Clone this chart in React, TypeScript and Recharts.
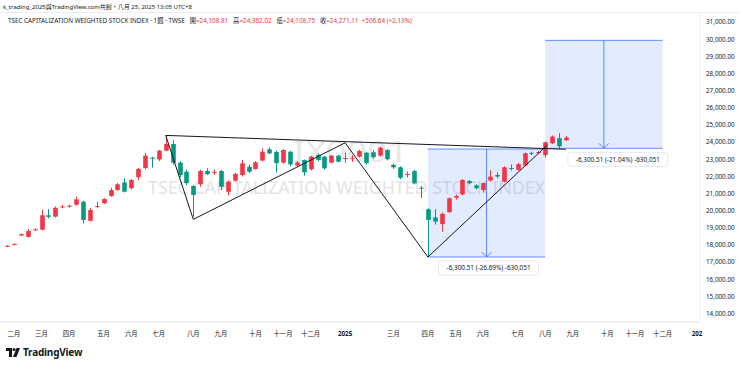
import React from "react";
import {
  ComposedChart,
  Bar,
  XAxis,
  YAxis,
  ReferenceLine,
  ReferenceArea,
  ReferenceDot,
} from "recharts";

// weekly TAIEX candles, week 0 = 2024-01-29 ... week 81 = 2025-08-25
const OPEN = [
  17930, 18010, 18560, 18480, 18880, 18900, 19740, 19660, 20200, 20260,
  20360, 20530, 19420, 20230, 20440, 20860, 21210, 21660, 21320, 21960,
  22500, 23100, 23000, 23510, 23900, 22810, 22280, 21450, 21550, 22320,
  22240, 22320, 21110, 21760, 22090, 22570, 22440, 22930, 23590, 23430,
  22810, 23450, 22640, 22960, 22420, 23260, 23160, 22810, 23220, 23030,
  23060, 23160, 23390, 23420, 23220, 23550, 22680, 22540, 22100, 22320,
  21350, 20090, 19620, 19230, 19920, 20770, 20960, 21740, 21490, 21210,
  21770, 22090, 21700, 22500, 22380, 22640, 23380, 23390, 23250, 23940,
  24240, 24108.81,
];
const HIGH = [
  18000, 18100, 18680, 18940, 18980, 20050, 20090, 20250, 20330, 20360,
  20830, 20600, 20170, 20530, 20730, 21350, 21620, 21900, 21850, 22500,
  23370, 23150, 23560, 24416, 24130, 22900, 22400, 21500, 22400, 22480,
  22400, 22380, 21760, 22220, 22960, 22700, 22900, 23650, 23700, 23500,
  23600, 23500, 22900, 23000, 23200, 23350, 23200, 23260, 23270, 23400,
  23250, 23560, 23450, 23550, 23750, 23600, 22750, 22600, 22300, 22400,
  21450, 20150, 20100, 19900, 20780, 20950, 21850, 21800, 21550, 21650,
  22380, 22250, 22600, 22700, 22800, 23400, 23450, 23500, 24050, 24400,
  24530, 24362.02,
];
const LOW = [
  17880, 17990, 18540, 18450, 18820, 18870, 19560, 19620, 20150, 20190,
  20300, 19270, 19380, 20150, 20400, 20820, 21180, 21080, 21250, 21800,
  22420, 22520, 22900, 23480, 22700, 21950, 21500, 19662, 21400, 22090,
  22100, 21200, 20900, 21700, 22000, 22200, 22400, 22900, 23300, 22230,
  22750, 22600, 22550, 22050, 22350, 22900, 22400, 22780, 22820, 22800,
  22850, 23100, 22700, 23050, 23150, 22950, 22450, 21850, 21950, 21550,
  20750, 17306, 19200, 18780, 19880, 20650, 20900, 21550, 21250, 21060,
  21700, 21900, 21650, 22350, 22350, 22600, 23250, 23300, 23100, 23900,
  23650, 24108.75,
];
const CLOSE = [
  17960, 18060, 18640, 18820, 18920, 19740, 19650, 20180, 20260, 20300,
  20670, 19470, 20050, 20280, 20690, 21210, 21550, 21120, 21800, 22440,
  23220, 23050, 23510, 23900, 22810, 22090, 21610, 20920, 22320, 22140,
  22270, 21400, 21700, 22150, 22770, 22280, 22830, 23450, 23350, 22780,
  23550, 22710, 22830, 22250, 23160, 22970, 22480, 23220, 22870, 23080,
  23100, 23490, 22780, 23130, 23680, 23010, 22540, 21930, 22150, 21600,
  21300, 19470, 19370, 19820, 20730, 20870, 21800, 21610, 21320, 21620,
  22000, 22000, 22540, 22450, 22720, 23360, 23340, 23430, 24000, 24330,
  23764.47, 24271.11,
];

// first week of each month on the time axis (incl. future weeks)
const MONTH_WEEKS = [1, 5, 9, 14, 18, 22, 27, 31, 36, 40, 44, 49, 56, 61, 65, 69, 74, 78, 82, 87, 91, 95, 100];
const MONTH_LABELS = [
  "二月", "三月", "四月", "五月", "六月", "七月", "八月", "九月", "十月", "十一月", "十二月",
  "2025", "三月", "四月", "五月", "六月", "七月", "八月", "九月", "十月", "十一月", "十二月", "202",
];
const PRICE_TICKS = [
  14000, 15000, 16000, 17000, 18000, 19000, 20000, 21000, 22000,
  23000, 24000, 25000, 26000, 27000, 28000, 29000, 30000, 31000,
];

// drawings: [week, price]
const PATTERN_TOP = [[23, 24400], [81, 23590]];
const PATTERN_LEGS = [
  [[23, 24400], [27, 19500]],
  [[27, 19500], [49, 23970]],
  [[49, 23970], [61, 17306]],
  [[61, 17306], [78.3, 23840]],
];
// price range boxes: [week1, week2, fromPrice, toPrice, label]
const RANGES: [number, number, number, number, string][] = [
  [61, 78, 23606.5, 17306, "-6,300.51 (-26.69%) -630,051"],
  [78, 95, 29945.5, 23645, "-6,300.51 (-21.04%) -630,051"],
];

const RED = "#f23645";
const GREEN = "#089981";
const BLUE = "#2962ff";
const FONT = '"Noto Sans", "Noto Sans CJK TC", sans-serif';

const data = OPEN.map((o, i) => ({
  i,
  o,
  h: HIGH[i],
  l: LOW[i],
  c: CLOSE[i],
  range: [LOW[i], HIGH[i]],
}));

function Candle(props: any) {
  const { x, y, width, height, payload } = props;
  if (x == null || !payload) return null;
  const { o, h, l, c } = payload;
  const color = c >= o ? RED : GREEN;
  const top = Math.min(y, y + height);
  const hh = Math.abs(height);
  const cx = Math.round(x + width / 2) + 0.5;
  const py = (v: number) => top + ((h - v) / (h - l || 1)) * hh;
  const b1 = py(Math.max(o, c));
  const b2 = py(Math.min(o, c));
  return (
    <g>
      <line x1={cx} x2={cx} y1={top} y2={top + hh} stroke={color} strokeWidth={1} />
      <rect x={cx - 2.3} y={b1} width={4.6} height={Math.max(1, b2 - b1)} fill={color} />
    </g>
  );
}

const XTick = (props: any) => {
  const { x, y, payload } = props;
  const idx = MONTH_WEEKS.indexOf(payload.value);
  const label = MONTH_LABELS[idx] ?? "";
  const bold = label.startsWith("20");
  return (
    <text x={x} y={y + 6} textAnchor="middle" fontSize={6.3} fontFamily={FONT} fill="#131722" fontWeight={bold ? 700 : 400}>
      {label}
    </text>
  );
};

const YTick = (props: any) => {
  const { x, y, payload } = props;
  return (
    <text x={x} y={y + 2.2} textAnchor="start" fontSize={6.3} fontFamily={FONT} fill="#131722">
      {payload.value.toLocaleString("en-US", { minimumFractionDigits: 2 })}
    </text>
  );
};

const arrowHead = (p: any) => (
  <path d={`M${p.cx - 5},${p.cy - 5} L${p.cx},${p.cy} L${p.cx + 5},${p.cy - 5}`} stroke={BLUE} strokeOpacity={0.75} fill="none" strokeWidth={1} />
);

const rangeLabel = (text: string, dx: number) => (p: any) => (
  <g>
    <rect x={p.cx + dx - 50} y={p.cy + 4} width={100} height={14} rx={3} fill="#fff" stroke="#e0e3eb" strokeWidth={0.8} />
    <text x={p.cx + dx} y={p.cy + 13.3} textAnchor="middle" fontSize={6.4} fontFamily={FONT} fill="#131722">
      {text}
    </text>
  </g>
);

export default function App() {
  return (
    <div style={{ position: "absolute", left: 0, top: 0, width: 740, height: 367, background: "#fff", fontFamily: FONT, color: "#131722" }}>
      {/* symbol watermark */}
      <svg width={740} height={367} style={{ position: "absolute", left: 0, top: 0 }}>
        <text x={293} y={162} fontSize={29} textLength={115} lengthAdjust="spacingAndGlyphs" fontFamily={FONT} fill="#e8e8ea">
          IX0001
        </text>
        <text x={148} y={194} fontSize={18} textLength={397} lengthAdjust="spacingAndGlyphs" fontFamily={FONT} fill="#e3e3e5">
          TSEC CAPITALIZATION WEIGHTED STOCK INDEX
        </text>
        <line x1={0} x2={740} y1={12.5} y2={12.5} stroke="#eceef2" />
      </svg>

      <div style={{ position: "absolute", left: 0, top: 0 }}>
        <ComposedChart width={740} height={367} data={data} margin={{ top: 12, right: 0, bottom: 29, left: 0 }}>
          <XAxis
            dataKey="i"
            type="number"
            domain={[-1.014, 100.43]}
            allowDataOverflow
            ticks={MONTH_WEEKS}
            interval={0}
            height={16}
            tick={<XTick />}
            tickLine={false}
            axisLine={{ stroke: "#e0e3eb" }}
          />
          <YAxis
            orientation="right"
            type="number"
            domain={[13514, 31600]}
            allowDataOverflow
            ticks={PRICE_TICKS}
            interval={0}
            width={40}
            tickSize={0}
            tickMargin={6}
            tick={<YTick />}
            axisLine={{ stroke: "#eef0f3" }}
          />

          {RANGES.map(([w1, w2, p1, p2], k) => (
            <ReferenceArea key={"a" + k} x1={w1} x2={w2} y1={Math.min(p1, p2)} y2={Math.max(p1, p2)} fill={BLUE} fillOpacity={0.13} stroke="none" />
          ))}
          {RANGES.map(([w1, w2, p1], k) => (
            <ReferenceLine key={"t" + k} segment={[{ x: w1, y: p1 }, { x: w2, y: p1 }]} stroke={BLUE} strokeOpacity={0.7} />
          ))}
          {RANGES.map(([w1, w2, , p2], k) => (
            <ReferenceLine key={"b" + k} segment={[{ x: w1, y: p2 }, { x: w2, y: p2 }]} stroke={BLUE} strokeOpacity={0.7} />
          ))}
          {RANGES.map(([w1, w2, p1, p2], k) => (
            <ReferenceLine key={"v" + k} segment={[{ x: (w1 + w2) / 2, y: p1 }, { x: (w1 + w2) / 2, y: p2 }]} stroke={BLUE} strokeOpacity={0.75} />
          ))}
          {RANGES.map(([w1, w2, , p2], k) => (
            <ReferenceDot key={"h" + k} x={(w1 + w2) / 2} y={p2} r={0} shape={arrowHead} />
          ))}

          <Bar dataKey="range" barSize={5} isAnimationActive={false} shape={(p: any) => <Candle {...p} />} />

          <ReferenceLine segment={[{ x: PATTERN_TOP[0][0], y: PATTERN_TOP[0][1] }, { x: PATTERN_TOP[1][0], y: PATTERN_TOP[1][1] }]} stroke="#131722" strokeWidth={1} />
          {PATTERN_LEGS.map(([a, b], k) => (
            <ReferenceLine key={"p" + k} segment={[{ x: a[0], y: a[1] }, { x: b[0], y: b[1] }]} stroke="#131722" strokeWidth={1} />
          ))}

          {RANGES.map(([w1, w2, , p2, text], k) => (
            <ReferenceDot key={"l" + k} x={(w1 + w2) / 2} y={p2} r={0} shape={rangeLabel(text, k === 0 ? 2 : 14)} />
          ))}
        </ComposedChart>
      </div>

      {/* legend header */}
      <div style={{ position: "absolute", left: 3, top: 3, fontSize: 6, lineHeight: "8px", whiteSpace: "nowrap" }}>
        k_trading_2025與TradingView.com共創・八月 25, 2025 13:05 UTC+8
      </div>
      <div style={{ position: "absolute", left: 8, top: 16, fontSize: 6.3, lineHeight: "9px", whiteSpace: "nowrap" }}>
        TSEC CAPITALIZATION WEIGHTED STOCK INDEX · 1週 · TWSE&nbsp;&nbsp;
        開<span style={{ color: RED }}>=24,108.81</span>&nbsp;&nbsp;
        高<span style={{ color: RED }}>=24,362.02</span>&nbsp;&nbsp;
        低<span style={{ color: RED }}>=24,108.75</span>&nbsp;&nbsp;
        收<span style={{ color: RED }}>=24,271.11</span>&nbsp;&nbsp;
        <span style={{ color: RED }}>+506.64 (+2.13%)</span>
      </div>

      {/* footer logo */}
      <div style={{ position: "absolute", left: 6, top: 345, display: "flex", alignItems: "center", gap: 3 }}>
        <svg width={14} height={9} viewBox="0 0 14 9">
          <path d="M0 0 H6 V9 H3 V3 H0 Z" fill="#131722" />
          <circle cx={8} cy={1.5} r={1.5} fill="#131722" />
          <path d="M10.5 0 H14 L10.5 9 H7 Z" fill="#131722" />
        </svg>
        <span style={{ fontSize: 10, fontWeight: 700, letterSpacing: -0.2 }}>TradingView</span>
      </div>
    </div>
  );
}
